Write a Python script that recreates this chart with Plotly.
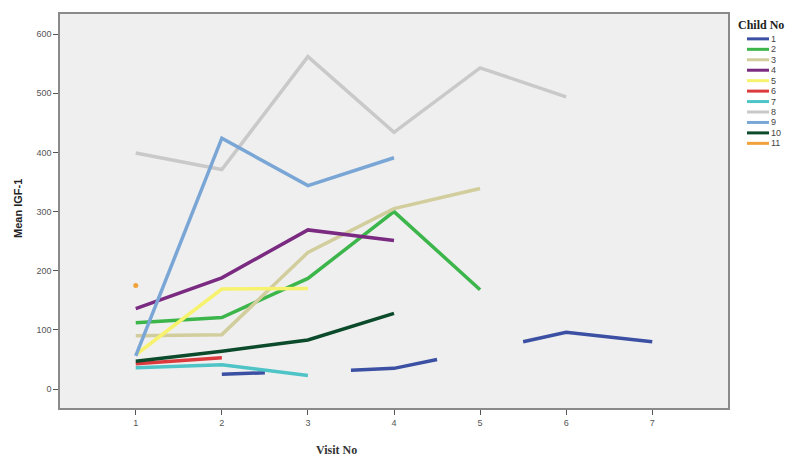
import plotly.graph_objects as go

# ---- data ----
child_ids = ["1", "2", "3", "4", "5", "6", "7", "8", "9", "10", "11"]
colors = ["#3b4fa3", "#3cb54a", "#d2cd9c", "#7a2a80", "#f7f26e", "#dc3b3e",
          "#4ec4c6", "#c9c9c9", "#7aa6d6", "#0b4a2a", "#f2a23a"]

# visit numbers and mean IGF-1 per child (None = gap)
x_c1 = [2, 2.5, None, 3.5, 4, 4.5, None, 5.5, 6, 7]
y_c1 = [25, 27.5, None, 32, 35, 50, None, 80, 96, 80]
x_c2 = [1, 2, 3, 4, 5]
y_c2 = [112, 121, 187, 300, 168]
x_c3 = [1, 2, 3, 4, 5]
y_c3 = [90, 92, 231, 305, 339]
x_c4 = [1, 2, 3, 4]
y_c4 = [136, 188, 269, 251]
x_c5 = [1, 2, 3]
y_c5 = [58, 169, 170]
x_c6 = [1, 2]
y_c6 = [43, 53]
x_c7 = [1, 2, 3]
y_c7 = [36, 41, 23]
x_c8 = [1, 2, 3, 4, 5, 6]
y_c8 = [399, 371, 562, 434, 543, 494]
x_c9 = [1, 2, 3, 4]
y_c9 = [56, 424, 344, 391]
x_c10 = [1, 2, 3, 4]
y_c10 = [47, 64, 83, 128]
x_c11 = [1]
y_c11 = [175]

xs = [x_c1, x_c2, x_c3, x_c4, x_c5, x_c6, x_c7, x_c8, x_c9, x_c10, x_c11]
ys = [y_c1, y_c2, y_c3, y_c4, y_c5, y_c6, y_c7, y_c8, y_c9, y_c10, y_c11]

x_ticks = [1, 2, 3, 4, 5, 6, 7]
y_ticks = [0, 100, 200, 300, 400, 500, 600]

# ---- figure ----
W, H = 785, 459
L, R, T, B = 60, 57, 12, 51
pw, ph = W - L - R, H - T - B

fig = go.Figure()
for cid, col, x, y in zip(child_ids, colors, xs, ys):
    if len(x) == 1:
        fig.add_trace(go.Scatter(x=x, y=y, mode="markers", name=cid,
                                 marker=dict(color=col, size=5),
                                 showlegend=False))
    else:
        fig.add_trace(go.Scatter(x=x, y=y, mode="lines", name=cid,
                                 line=dict(color=col, width=3.5),
                                 connectgaps=False, showlegend=False))

axis_common = dict(showgrid=False, zeroline=False, showline=True,
                   linecolor="#8a8a8a", linewidth=1.5, mirror=True,
                   ticks="outside", ticklen=5, tickcolor="#555555",
                   tickfont=dict(family="Liberation Sans, Arial", size=9, color="#555555"))

fig.update_layout(
    width=W, height=H,
    margin=dict(l=L, r=R, t=T, b=B),
    paper_bgcolor="white",
    plot_bgcolor="#efefef",
    showlegend=False,
    xaxis=dict(range=[0.12, 7.88], tickvals=x_ticks, **axis_common),
    yaxis=dict(range=[-32, 634], tickvals=y_ticks, **axis_common),
)

# axis titles
fig.add_annotation(text="<b>Mean IGF-1</b>", xref="paper", yref="paper",
                   x=(18 - L) / pw, y=(H - B - 208) / ph, textangle=-90,
                   showarrow=False, xanchor="center", yanchor="middle",
                   font=dict(family="Liberation Sans, Arial", size=11, color="#222222"))
fig.add_annotation(text="<b>Visit No</b>", xref="paper", yref="paper",
                   x=(336 - L) / pw, y=(H - B - 450) / ph,
                   showarrow=False, xanchor="center", yanchor="middle",
                   font=dict(family="Liberation Serif, Times New Roman", size=12, color="#333333"))

# manual legend
def px_x(p):
    return (p - L) / pw

def px_y(p):
    return (H - B - p) / ph

fig.add_annotation(text="<b>Child No</b>", xref="paper", yref="paper",
                   x=px_x(736), y=px_y(23), showarrow=False,
                   xanchor="left", yanchor="middle",
                   font=dict(family="Liberation Serif, Times New Roman", size=12, color="#222222"))
for i, (cid, col) in enumerate(zip(child_ids, colors)):
    yy = 37 + 10.5 * i
    fig.add_shape(type="line", xref="paper", yref="paper",
                  x0=px_x(747), x1=px_x(769), y0=px_y(yy), y1=px_y(yy),
                  line=dict(color=col, width=3))
    fig.add_annotation(text=cid, xref="paper", yref="paper",
                       x=px_x(769), y=px_y(yy), showarrow=False,
                       xanchor="left", yanchor="middle",
                       font=dict(family="Liberation Sans, Arial", size=9, color="#444444"))

fig.write_html("out.html", config={"displayModeBar": False},
               post_script="document.body.style.margin='0';document.body.style.overflow='hidden';")
